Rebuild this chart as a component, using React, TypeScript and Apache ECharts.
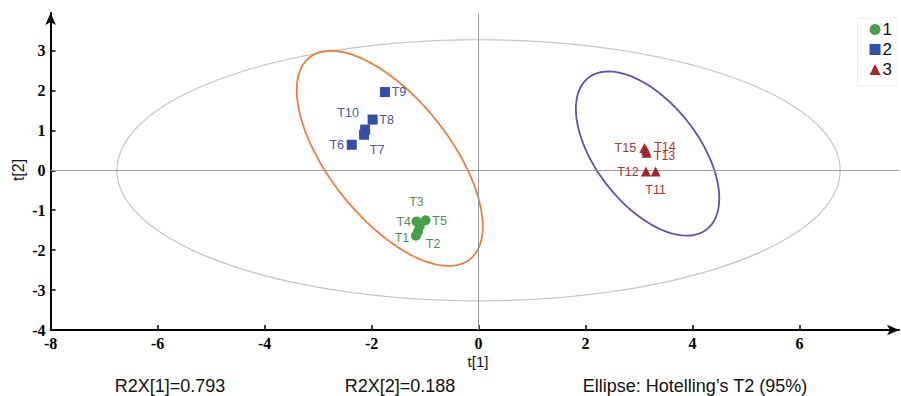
import React, { useEffect, useRef } from "react";
import * as echarts from "echarts";

// ---- data ----
const group1Names = ["T3", "T5", "T4", "T2", "T1"];
const group1X = [-1.16, -0.99, -1.1, -1.13, -1.17];
const group1Y = [-1.28, -1.25, -1.4, -1.53, -1.64];

const group2Names = ["T9", "T8", "T10", "T7", "T6"];
const group2X = [-1.75, -1.98, -2.12, -2.14, -2.37];
const group2Y = [1.96, 1.27, 1.02, 0.89, 0.64];

const group3Names = ["T15", "T14", "T13", "T12", "T11"];
const group3X = [3.1, 3.13, 3.14, 3.13, 3.31];
const group3Y = [0.56, 0.5, 0.44, -0.03, -0.03];

const xTicks = [-8, -6, -4, -2, 0, 2, 4, 6];
const yTicks = [-4, -3, -2, -1, 0, 1, 2, 3];

// ellipses: center [x, y] and covariance-like shape [sxx, syy, sxy]
const ellipseCenters = [
  [0, 0],
  [-1.66, 0.3],
  [3.16, 0.42],
];
const ellipseShapes = [
  [45.7, 10.69, 0],
  [3.022, 7.26, -2.965],
  [1.796, 4.224, -1.502],
];

const notes = ["R2X[1]=0.793", "R2X[2]=0.188", "Ellipse: Hotelling\u2019s T2 (95%)"];

// ---- styling (label offsets in pixels, not data) ----
const group1LabelOffsets = [[0, -19], [14, 1], [-16, -4], [15, 13], [-14, 2]];
const group2LabelOffsets = [[14, 0], [14, 0], [-17, -17], [13, 15], [-15, 0]];
const group3LabelOffsets = [[-19, 0], [19, -3], [18, 3], [-18, 0], [0, 18]];
const ellipseColors = ["#c4c4c4", "#ed7d3c", "#6a4bb0"];
const colors = ["#45a047", "#2f4fa8", "#a3262a"];
const labelColors = ["#4f8f50", "#4558a3", "#a23a30"];

function buildPoints(names: string[], xs: number[], ys: number[], offs: number[][]) {
  return names.map((n, i) => ({
    name: n,
    value: [xs[i], ys[i]],
    label: { offset: offs[i] },
  }));
}

export default function App() {
  const ref = useRef<HTMLDivElement>(null);
  useEffect(() => {
    if (!ref.current) return;
    const chart = echarts.init(ref.current, null, { renderer: "svg" });
    const serif = "Liberation Serif";
    const sans = "Liberation Sans";
    const labelStyle = (c: string) => ({
      show: true,
      position: "inside",
      formatter: "{b}",
      color: c,
      fontSize: 12.5,
      fontFamily: sans,
    });
    const txt = (text: string, x: number, y: number, size: number, rot = 0) => ({
      type: "text",
      x,
      y,
      rotation: rot,
      style: { text, fontSize: size, fontFamily: sans, fill: "#111", align: "center", verticalAlign: "middle" },
    });
    const axisCommon = {
      type: "value",
      splitLine: { show: false },
      axisLine: {
        onZero: false,
        lineStyle: { color: "#000", width: 2 },
        symbol: ["none", "arrow"],
        symbolSize: [8, 12],
      },
    };
    const tickLabel = {
      color: "#000",
      fontFamily: serif,
      fontWeight: "bold",
      fontSize: 16,
      formatter: "{t|{value}}",
      rich: { t: { color: "#000", fontFamily: serif, fontWeight: "bold", fontSize: 16 } },
    };
    const option: any = {
      animation: false,
      grid: { left: 50.6, right: 2, top: 13, bottom: 66, containLabel: false },
      xAxis: {
        ...axisCommon,
        min: -8,
        max: 7.86,
        interval: 2,
        axisTick: { inside: true, length: 5, lineStyle: { color: "#000", width: 1.5 }, customValues: xTicks },
        axisLabel: { ...tickLabel, customValues: xTicks, margin: 5 },
      },
      yAxis: {
        ...axisCommon,
        min: -4,
        max: 3.94,
        interval: 1,
        axisTick: { inside: true, length: 5, lineStyle: { color: "#000", width: 1.5 }, customValues: yTicks },
        axisLabel: { ...tickLabel, customValues: yTicks, margin: 5 },
      },
      legend: {
        data: ["1", "2", "3"],
        orient: "vertical",
        right: 4,
        top: 18,
        itemGap: 3,
        itemWidth: 11,
        itemHeight: 11,
        padding: [3, 5, 8, 12],
        borderColor: "#ececec",
        borderWidth: 1,
        textStyle: { fontSize: 17, color: "#111", fontFamily: sans, padding: [0, 0, 0, -3] },
      },
      graphic: [
        txt("t[1]", 478, 361, 15),
        txt("t[2]", 18, 170, 16, Math.PI / 2),
        txt(notes[0], 170, 386, 18),
        txt(notes[1], 400, 386, 18),
        txt(notes[2], 695, 386, 18),
      ],
      series: [
        {
          type: "custom",
          silent: true,
          z: 1,
          data: ellipseCenters.map((_, i) => [i]),
          renderItem: (params: any, api: any) => {
            const i = params.dataIndex;
            const [cx, cy] = ellipseCenters[i];
            const [sxx, syy, sxy] = ellipseShapes[i];
            const a = Math.sqrt(sxx);
            const c = sxy / a;
            const d = Math.sqrt(syy - (sxy * sxy) / sxx);
            const pts: number[][] = [];
            const n = 160;
            for (let k = 0; k < n; k++) {
              const t = (k / n) * Math.PI * 2;
              pts.push(api.coord([cx + a * Math.cos(t), cy + c * Math.cos(t) + d * Math.sin(t)]));
            }
            return {
              type: "polygon",
              shape: { points: pts },
              style: { fill: "none", stroke: ellipseColors[i], lineWidth: i === 0 ? 1.2 : 1.8 },
            };
          },
          markLine: {
            silent: true,
            symbol: "none",
            label: { show: false },
            lineStyle: { color: "#9a9a9a", width: 1, type: "solid" },
            data: [{ xAxis: 0 }, { yAxis: 0 }],
          },
        },
        {
          name: "1",
          type: "scatter",
          symbol: "circle",
          symbolSize: 10,
          z: 5,
          itemStyle: { color: colors[0], opacity: 1 },
          label: labelStyle(labelColors[0]),
          data: buildPoints(group1Names, group1X, group1Y, group1LabelOffsets),
        },
        {
          name: "2",
          type: "scatter",
          symbol: "rect",
          symbolSize: 10,
          z: 5,
          itemStyle: { color: colors[1], opacity: 1 },
          label: labelStyle(labelColors[1]),
          data: buildPoints(group2Names, group2X, group2Y, group2LabelOffsets),
        },
        {
          name: "3",
          type: "scatter",
          symbol: "triangle",
          symbolSize: 10,
          z: 5,
          itemStyle: { color: colors[2], opacity: 1 },
          label: labelStyle(labelColors[2]),
          data: buildPoints(group3Names, group3X, group3Y, group3LabelOffsets),
        },
      ],
    };
    chart.setOption(option);
    return () => chart.dispose();
  }, []);
  return (
    <div
      ref={ref}
      style={{ position: "fixed", left: 0, top: 0, width: 901, height: 396, background: "#fff" }}
    />
  );
}
